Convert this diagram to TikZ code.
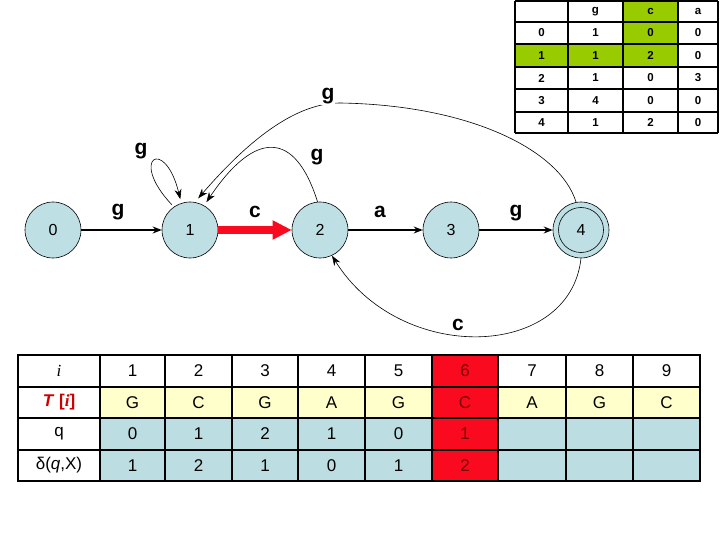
\documentclass[tikz,border=0pt]{standalone}
\usepackage{fontspec}
\setmainfont{Liberation Sans}
\newfontfamily\tnr{Liberation Serif}
\usetikzlibrary{arrows.meta}
\definecolor{nodeblue}{RGB}{190,223,228}
\definecolor{cellblue}{RGB}{188,222,226}
\definecolor{cellyellow}{RGB}{255,255,204}
\definecolor{tgreen}{RGB}{153,204,0}
\definecolor{tred}{RGB}{250,10,30}
\definecolor{darkred}{RGB}{120,0,0}
\definecolor{lblred}{RGB}{204,0,0}
\begin{document}
\begin{tikzpicture}[x=1pt,y=-1pt,
  state/.style={circle,draw,line width=0.6pt,fill=nodeblue,minimum size=56pt,inner sep=0pt,font=\fontsize{16}{16}\selectfont},
  lbl/.style={font=\fontsize{21}{21}\selectfont\bfseries,inner sep=1pt},
  sarr/.style={line width=1.3pt,-{Stealth[length=9pt,width=7pt]}},
  carr/.style={line width=0.6pt,-{Stealth[length=10pt,width=7pt]}},
  tcell/.style={font=\fontsize{17}{17}\selectfont,inner sep=0pt},
  scell/.style={font=\fontsize{11.5}{11.5}\selectfont\bfseries,inner sep=0pt}]
\useasboundingbox (0,0) rectangle (720,540);
\fill[white] (0,0) rectangle (720,540);

% states
\node[state] (n0) at (53,230) {0};
\node[state] (n1) at (190,230) {1};
\node[state] (n2) at (320,230) {2};
\node[state] (n3) at (451,230) {3};
\node[state] (n4) at (581,230) {4};
\draw[line width=0.6pt] (n4.center) circle[radius=22.5pt];

% straight edges
\draw[sarr] (n0) -- (n1);
\draw[line width=7pt,tred,-{Triangle[length=19pt,width=18pt]}] (n1.east) -- (n2.west);
\draw[sarr] (n2) -- (n3);
\draw[sarr] (n3) -- (n4);

% curved edges
\draw[carr,shorten <=3pt,shorten >=4pt] (n1.125) .. controls (128,158) and (165,136) .. (n1.108);
\draw[carr,shorten >=4pt] (n2.95) .. controls (295,130) and (255,130) .. (n1.60);
\draw[carr,shorten >=5pt] (n4.100) .. controls (560,150) and (470,105) .. (340,103)
   .. controls (290,103) and (240,150) .. (n1.80);
\draw[carr] (n4.south) .. controls (570,360) and (400,365) .. (n2.-65);

% edge labels
\node[lbl] (l01) at (118,212) {g};
\node[lbl] (l11) at (141,151) {g};
\node[lbl] (l12) at (255,212) {c};
\node[lbl] (l21) at (317,157) {g};
\node[lbl,fill=white] (l41) at (328,96) {g};
\node[lbl] (l23) at (380,212) {a};
\node[lbl] (l34) at (516,213) {g};
\node[lbl] (l42) at (458,325) {c};

% top table
\fill[white] (515,1) rectangle (718,133);
\fill[tgreen] (623,1) rectangle (678,67);
\fill[tgreen] (515,44) rectangle (678,67);
\foreach \x in {515,568,623,678,718} \draw[line width=1.6pt] (\x,1) -- (\x,133);
\foreach \y in {1,22,44,67,89,112,133} \draw[line width=1.6pt] (515,\y) -- (718,\y);
\foreach \t [count=\c] in {g,c,a} {
  \pgfmathsetmacro{\cx}{{541.5,595.5,650.5,698}[\c]}
  \node[scell] (th-\c) at (\cx,11.5) {\t};
}
\foreach \row/\ry in {{0,1,0,0}/33,{1,1,2,0}/55.5,{2,1,0,3}/78,{3,4,0,0}/100.5,{4,1,2,0}/122.5} {
  \foreach \v [count=\c from 0] in \row {
    \pgfmathsetmacro{\cx}{{541.5,595.5,650.5,698}[\c]}
    \node[scell] (t-\ry-\c) at (\cx,\ry) {\v};
  }
}

% bottom table
\fill[cellyellow] (100,387) rectangle (700,418);
\fill[cellblue] (100,418) rectangle (700,481);
\fill[tred] (432,355) rectangle (498,481);
\foreach \x in {100,165,232,298,365,432,498,566,633} \draw[line width=1.5pt] (\x,355) -- (\x,481);
\foreach \y in {387,418,450} \draw[line width=1.5pt] (18,\y) -- (700,\y);
\draw[line width=2.5pt] (18,355) rectangle (700,481);

\node[tcell] (h-i) at (59,371) {\tnr\itshape i};
\node[tcell] (h-T) at (59,402.5) {\color{lblred}\bfseries\itshape T\/ \upshape[{\tnr\itshape i}]};
\node[tcell] (h-q) at (59,434) {q};
\node[tcell] (h-d) at (59,465.5) {δ(\textit{q},X)};
\foreach \v [count=\c] in {1,2,3,4,5,6,7,8,9} {
  \pgfmathsetmacro{\cx}{{0,132.5,198.5,265,331.5,398.5,465,532,599.5,666.5}[\c]}
  \ifnum\c=6 \def\tc{darkred}\else\def\tc{black}\fi
  \node[tcell,text=\tc] (r1-\c) at (\cx,371) {\v};
}
\foreach \v [count=\c] in {G,C,G,A,G,C,A,G,C} {
  \pgfmathsetmacro{\cx}{{0,132.5,198.5,265,331.5,398.5,465,532,599.5,666.5}[\c]}
  \ifnum\c=6 \def\tc{darkred}\else\def\tc{black}\fi
  \node[tcell,text=\tc] (r2-\c) at (\cx,402.5) {\v};
}
\foreach \v [count=\c] in {0,1,2,1,0,1} {
  \pgfmathsetmacro{\cx}{{0,132.5,198.5,265,331.5,398.5,465,532,599.5,666.5}[\c]}
  \ifnum\c=6 \def\tc{darkred}\else\def\tc{black}\fi
  \node[tcell,text=\tc] (r3-\c) at (\cx,434) {\v};
}
\foreach \v [count=\c] in {1,2,1,0,1,2} {
  \pgfmathsetmacro{\cx}{{0,132.5,198.5,265,331.5,398.5,465,532,599.5,666.5}[\c]}
  \ifnum\c=6 \def\tc{darkred}\else\def\tc{black}\fi
  \node[tcell,text=\tc] (r4-\c) at (\cx,465.5) {\v};
}
\end{tikzpicture}
\end{document}
